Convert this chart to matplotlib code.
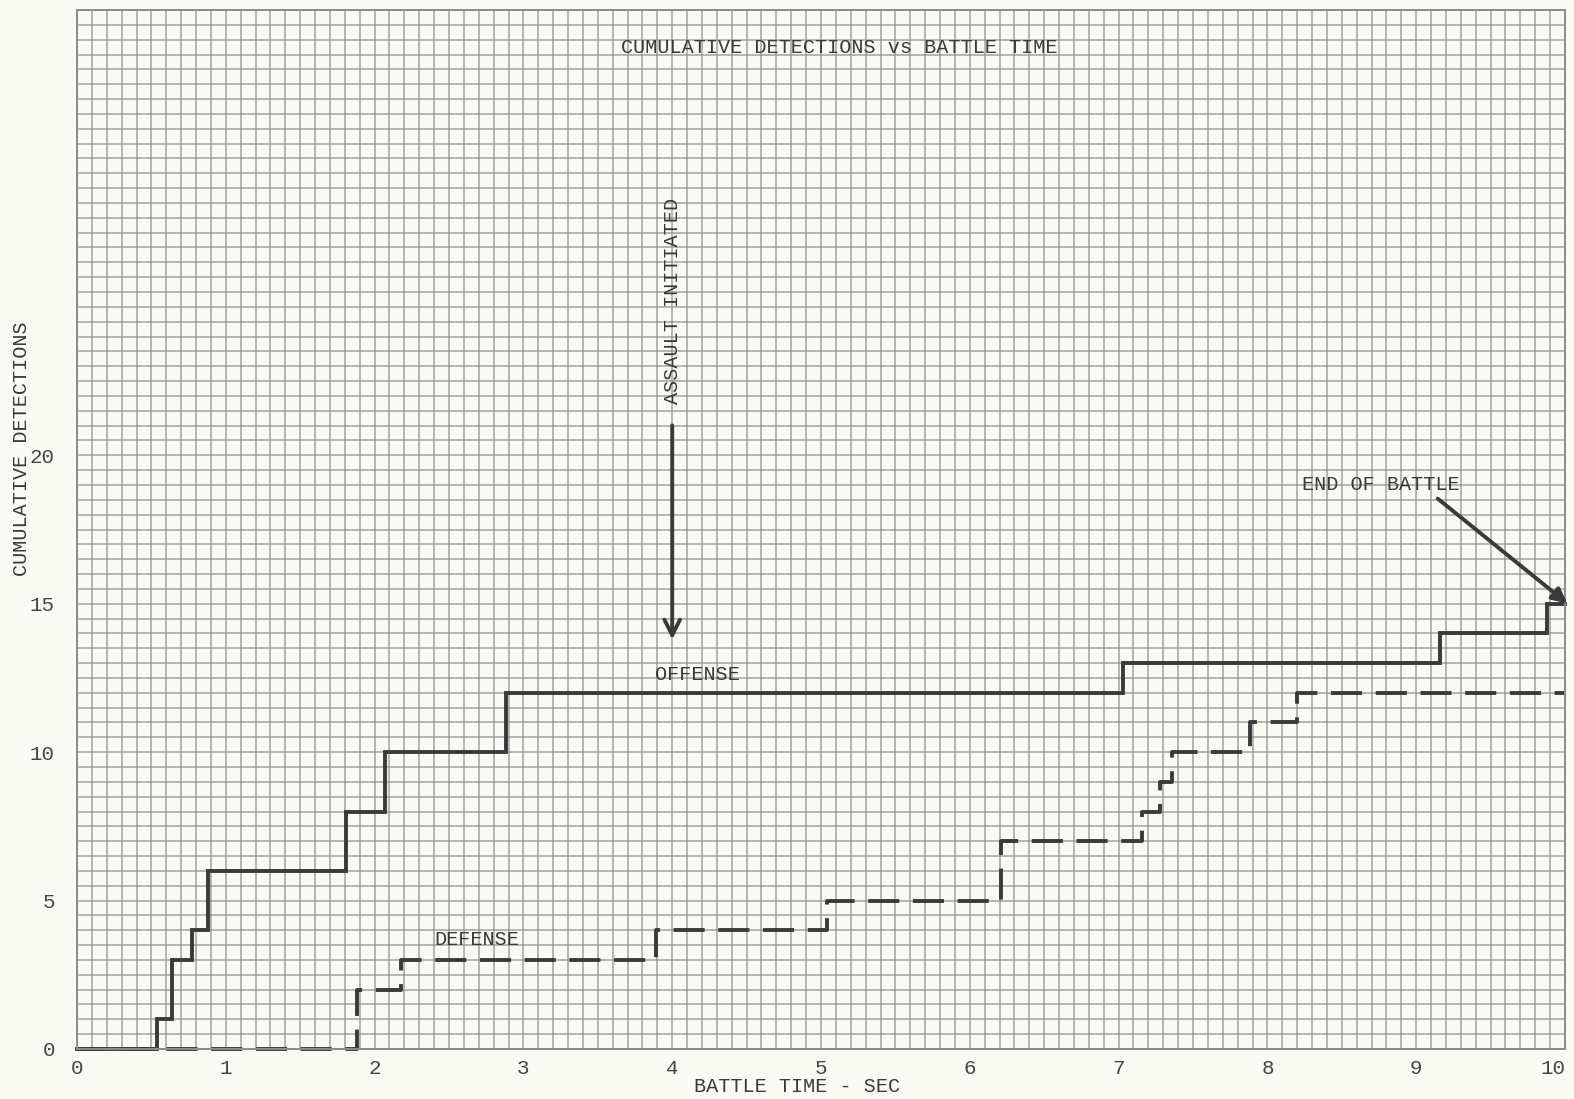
import numpy as np
import matplotlib.pyplot as plt

# step times (sec) and cumulative detection counts
offense_t = [0, 0.54, 0.64, 0.77, 0.88, 1.81, 2.07, 2.88, 7.03, 9.16, 9.88, 10]
offense_n = [0, 1, 3, 4, 6, 8, 10, 12, 13, 14, 15, 15]

defense_t = [0, 1.88, 2.18, 3.89, 5.04, 6.21, 7.16, 7.28, 7.36, 7.88, 8.20, 10]
defense_n = [0, 2, 3, 4, 5, 7, 8, 9, 10, 11, 12, 12]

x_ticks = list(range(0, 11))
y_ticks = [0, 5, 10, 15, 20]

paper = '#fafaf5'
ink = '#3a3a3a'
grid_col = '#8c8c8c'
font = ['Liberation Mono', 'DejaVu Sans Mono']

fig = plt.figure(figsize=(15.74, 10.99), dpi=100, facecolor=paper)
ax = fig.add_axes([77 / 1574, 50 / 1099, 1488 / 1574, 1039 / 1099])
ax.set_facecolor(paper)

# graph paper
ax.set_xlim(0, 10)
ax.set_ylim(0, 35)
ax.set_xticks(np.arange(0, 10.001, 0.1), minor=True)
ax.set_yticks(np.arange(0, 35.01, 0.5), minor=True)
ax.set_xticks(x_ticks)
ax.set_yticks(y_ticks)
ax.grid(which='both', color=grid_col, linewidth=1.1, alpha=0.8)
ax.tick_params(which='both', length=0)
ax.tick_params(axis='x', pad=7)
ax.tick_params(axis='y', pad=16)
for lab in ax.get_xticklabels() + ax.get_yticklabels():
    lab.set_fontfamily(font)
    lab.set_fontsize(15)
    lab.set_color('#444444')
# last label sits flush with the right edge of the sheet
ax.get_xticklabels()[-1].set_horizontalalignment('right')
for s in ax.spines.values():
    s.set_color(grid_col)
    s.set_linewidth(1.4)
ax.set_axisbelow(True)

ax.plot(offense_t, offense_n, drawstyle='steps-post', color=ink,
        linewidth=2.8, solid_joinstyle='miter', clip_on=False)
ax.plot(defense_t, defense_n, drawstyle='steps-post', color=ink,
        linewidth=2.8, dashes=(8, 3.5), clip_on=False)

txt = dict(family=font, color='#3a3a3a', fontsize=14.5)
ax.text(5.12, 33.75, 'CUMULATIVE DETECTIONS vs BATTLE TIME', ha='center', va='center', **txt)
ax.text(4.17, 12.6, 'OFFENSE', ha='center', va='center', **txt)
ax.text(2.69, 3.7, 'DEFENSE', ha='center', va='center', **txt)
ax.text(4.0, 25.2, 'ASSAULT INITIATED', rotation=90, ha='center', va='center', **txt)
ax.text(8.76, 19.0, 'END OF BATTLE', ha='center', va='center', **txt)

ax.annotate('', xy=(4.0, 13.7), xytext=(4.0, 21.1),
            arrowprops=dict(arrowstyle='->', color=ink, lw=2.8,
                            mutation_scale=28))
ax.annotate('', xy=(10.03, 14.95), xytext=(9.13, 18.6),
            arrowprops=dict(arrowstyle='-|>', color=ink, lw=2.8,
                            mutation_scale=22),
            annotation_clip=False)

fig.text(797 / 1574, 1 - 1087 / 1099, 'BATTLE TIME - SEC', ha='center', va='center', **txt)
fig.text(22 / 1574, 1 - 449 / 1099, 'CUMULATIVE DETECTIONS', rotation=90,
         ha='center', va='center', **txt)

fig.savefig('out.png', dpi=100, facecolor=paper)
